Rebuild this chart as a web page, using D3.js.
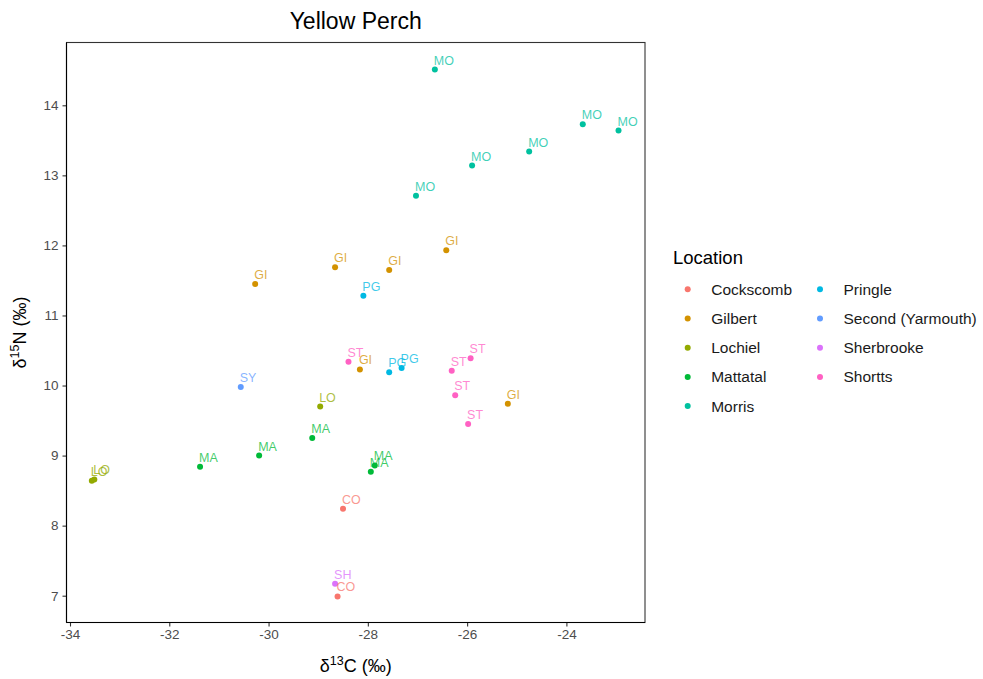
<!DOCTYPE html>
<html>
<head>
<meta charset="utf-8">
<script src="https://cdn.jsdelivr.net/npm/d3@7"></script>
<style>
  body { margin: 0; background: #fff; }
  svg { font-family: "Liberation Sans", Arial, sans-serif; }
</style>
</head>
<body>
<svg id="chart" width="983" height="679"></svg>
<script>
// Stable isotope values for yellow perch, one entry per fish
const locations = ["Cockscomb", "Gilbert", "Lochiel", "Mattatal", "Morris",
                   "Pringle", "Second (Yarmouth)", "Sherbrooke", "Shortts"];
const codes = ["CO", "GI", "LO", "MA", "MO", "PG", "SY", "SH", "ST"];
const colors = ["#F8766D", "#D39200", "#93AA00", "#00BA38", "#00C19F",
                "#00B9E3", "#619CFF", "#DB72FB", "#FF61C3"];

const sampleLocation = [
  "Cockscomb", "Cockscomb",
  "Gilbert", "Gilbert", "Gilbert", "Gilbert", "Gilbert", "Gilbert",
  "Lochiel", "Lochiel", "Lochiel",
  "Mattatal", "Mattatal", "Mattatal", "Mattatal", "Mattatal",
  "Morris", "Morris", "Morris", "Morris", "Morris", "Morris",
  "Pringle", "Pringle", "Pringle",
  "Second (Yarmouth)",
  "Sherbrooke",
  "Shortts", "Shortts", "Shortts", "Shortts", "Shortts"
];
const d13C = [
  -28.50, -28.61,
  -30.27, -28.66, -27.57, -26.42, -28.16, -25.18,
  -28.96, -33.56, -33.51,
  -31.38, -30.19, -29.12, -27.86, -27.94,
  -26.65, -23.67, -22.95, -24.75, -25.90, -27.03,
  -28.09, -27.57, -27.32,
  -30.56,
  -28.66,
  -28.39, -26.31, -25.93, -26.24, -25.98
];
const d15N = [
  8.24, 6.99,
  11.45, 11.69, 11.65, 11.93, 10.23, 9.74,
  9.70, 8.64, 8.66,
  8.84, 9.00, 9.25, 8.86, 8.77,
  14.51, 13.73, 13.64, 13.34, 13.14, 12.71,
  11.28, 10.19, 10.25,
  9.98,
  7.17,
  10.34, 10.21, 10.39, 9.86, 9.45
];
const xTicks = [-34, -32, -30, -28, -26, -24];
const yTicks = [7, 8, 9, 10, 11, 12, 13, 14];

const data = sampleLocation.map((loc, i) => ({ loc, x: d13C[i], y: d15N[i] }));

const svg = d3.select("#chart");
const panel = { left: 66.5, right: 645, top: 42.5, bottom: 622.5 };

const x = d3.scaleLinear().domain([-34, -24]).range([70, 566.4]);
const y = d3.scaleLinear().domain([7, 14]).range([595.7, 105.3]);
const color = d3.scaleOrdinal().domain(locations).range(colors);
const code = d3.scaleOrdinal().domain(locations).range(codes);

// panel frame
svg.append("rect")
  .attr("x", panel.left).attr("y", panel.top)
  .attr("width", panel.right - panel.left).attr("height", panel.bottom - panel.top)
  .attr("fill", "none").attr("stroke", "#333").attr("stroke-width", 1.1);

// axes (plain hyphen for negatives)
const fmt = d => String(d);
const xAxis = svg.append("g")
  .attr("transform", `translate(0,${panel.bottom})`)
  .call(d3.axisBottom(x).tickValues(xTicks).tickFormat(fmt).tickSize(4).tickSizeOuter(0).tickPadding(3));
const yAxis = svg.append("g")
  .attr("transform", `translate(${panel.left},0)`)
  .call(d3.axisLeft(y).tickValues(yTicks).tickFormat(fmt).tickSize(4).tickSizeOuter(0).tickPadding(4));
[xAxis, yAxis].forEach(g => {
  g.select(".domain").remove();
  g.selectAll(".tick line").attr("stroke", "#333").attr("stroke-width", 1.1);
  g.selectAll(".tick text").attr("fill", "#4D4D4D").style("font-size", "13.5px")
    .style("font-family", "'Liberation Sans', Arial, sans-serif");
});
svg.append("line").attr("x1", panel.left).attr("x2", panel.right)
  .attr("y1", panel.bottom).attr("y2", panel.bottom).attr("stroke", "#000").attr("stroke-width", 1.1);
svg.append("line").attr("x1", panel.left).attr("x2", panel.left)
  .attr("y1", panel.top).attr("y2", panel.bottom).attr("stroke", "#000").attr("stroke-width", 1.1);

// points
svg.append("g").selectAll("circle").data(data).join("circle")
  .attr("cx", d => x(d.x)).attr("cy", d => y(d.y)).attr("r", 3)
  .attr("fill", d => color(d.loc));

// site codes next to each point
svg.append("g").selectAll("text").data(data).join("text")
  .attr("x", d => x(d.x) - 1).attr("y", d => y(d.y) - 5)
  .attr("fill", d => color(d.loc)).attr("fill-opacity", 0.75)
  .style("font-size", "12.5px")
  .text(d => code(d.loc));

// title and axis titles
svg.append("text").attr("x", 355.7).attr("y", 29).attr("text-anchor", "middle")
  .style("font-size", "23px").attr("fill", "#000").text("Yellow Perch");

const xl = svg.append("text").attr("x", 355.7).attr("y", 672).attr("text-anchor", "middle")
  .style("font-size", "18px").attr("fill", "#000");
xl.append("tspan").text("δ");
xl.append("tspan").attr("dy", -7).style("font-size", "12.5px").text("13");
xl.append("tspan").attr("dy", 7).text("C (‰)");

const yl = svg.append("text")
  .attr("transform", `translate(26,${(panel.top + panel.bottom) / 2}) rotate(-90)`)
  .attr("text-anchor", "middle").style("font-size", "18px").attr("fill", "#000");
yl.append("tspan").text("δ");
yl.append("tspan").attr("dy", -7).style("font-size", "12.5px").text("15");
yl.append("tspan").attr("dy", 7).text("N (‰)");

// legend
const legend = svg.append("g");
legend.append("text").attr("x", 673).attr("y", 264).style("font-size", "18.5px")
  .attr("fill", "#000").text("Location");
const rowsPerCol = 5;
locations.forEach((loc, i) => {
  const col = Math.floor(i / rowsPerCol), row = i % rowsPerCol;
  const kx = 687.7 + col * 132.3, ky = 289.3 + row * 29.2;
  legend.append("circle").attr("cx", kx).attr("cy", ky).attr("r", 3).attr("fill", color(loc));
  legend.append("text").attr("x", kx + 23.5).attr("y", ky + 5.5)
    .style("font-size", "15.5px").attr("fill", "#1a1a1a").text(loc);
});
</script>
</body>
</html>
